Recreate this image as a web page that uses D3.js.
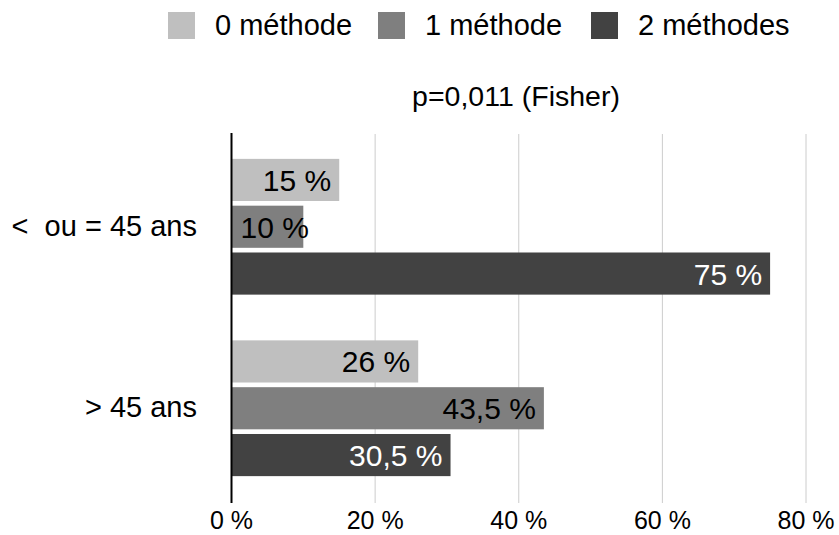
<!DOCTYPE html>
<html>
<head>
<meta charset="utf-8">
<script src="https://cdn.jsdelivr.net/npm/d3@7"></script>
<style>
  html, body { margin: 0; padding: 0; background: #fff; }
  svg { display: block; font-family: "Liberation Sans", Arial, sans-serif; }
</style>
</head>
<body>
<svg id="chart" width="839" height="535"></svg>
<script>
const categories = ["<  ou = 45 ans", "> 45 ans"];
const seriesNames = ["0 méthode", "1 méthode", "2 méthodes"];
const values0 = [15, 26];
const values1 = [10, 43.5];
const values2 = [75, 30.5];
const valueLabels0 = ["15 %", "26 %"];
const valueLabels1 = ["10 %", "43,5 %"];
const valueLabels2 = ["75 %", "30,5 %"];
const tickValues = [0, 20, 40, 60, 80];
const tickLabels = ["0 %", "20 %", "40 %", "60 %", "80 %"];
const subtitle = "p=0,011 (Fisher)";
const colors = ["#bfbfbf", "#7f7f7f", "#424242"];
const labelColors = ["#000", "#000", "#fff"];

const seriesValues = [values0, values1, values2];
const seriesLabels = [valueLabels0, valueLabels1, valueLabels2];

const svg = d3.select("#chart");

const x = d3.scaleLinear().domain([0, 80]).range([231.5, 806]);
const y0 = d3.scaleBand().domain(categories).range([136, 499]).paddingInner(0.252).paddingOuter(0.126);
const y1 = d3.scaleBand().domain(seriesNames).range([0, y0.bandwidth()]).paddingInner(0.1);

// gridlines
svg.append("g").selectAll("line")
  .data(tickValues.filter(d => d > 0))
  .join("line")
  .attr("x1", d => x(d)).attr("x2", d => x(d))
  .attr("y1", 134).attr("y2", 503)
  .attr("stroke", "#cccccc").attr("stroke-width", 1);

// tick labels
svg.append("g").selectAll("text")
  .data(tickValues)
  .join("text")
  .attr("x", d => x(d))
  .attr("y", 529)
  .attr("text-anchor", "middle")
  .attr("font-size", 25)
  .attr("fill", "#000")
  .text((d, i) => tickLabels[i]);

// bars
const rows = [];
categories.forEach((c, ci) => {
  seriesNames.forEach((s, si) => {
    rows.push({cat: c, ser: s, si, v: seriesValues[si][ci], label: seriesLabels[si][ci]});
  });
});

const barG = svg.append("g");
barG.selectAll("rect")
  .data(rows)
  .join("rect")
  .attr("x", x(0))
  .attr("y", d => y0(d.cat) + y1(d.ser))
  .attr("width", d => x(d.v) - x(0))
  .attr("height", y1.bandwidth())
  .attr("fill", d => colors[d.si]);

barG.selectAll("text")
  .data(rows)
  .join("text")
  .attr("y", d => y0(d.cat) + y1(d.ser) + y1.bandwidth() / 2 + 11)
  .attr("font-size", 30)
  .attr("fill", d => labelColors[d.si])
  .attr("text-anchor", "start")
  .text(d => d.label)
  .each(function(d) {
    const w = this.getComputedTextLength();
    const xe = Math.max(x(d.v) - 8, x(0) + 9 + w);
    d3.select(this).attr("x", xe - w);
  });

// axis line
svg.append("line")
  .attr("x1", x(0)).attr("x2", x(0))
  .attr("y1", 133).attr("y2", 503)
  .attr("stroke", "#000").attr("stroke-width", 2);

// category labels
svg.append("g").selectAll("text")
  .data(categories)
  .join("text")
  .attr("x", 197)
  .attr("y", d => y0(d) + y0.bandwidth() / 2 + 9)
  .attr("text-anchor", "end")
  .attr("font-size", 29)
  .attr("fill", "#000")
  .style("white-space", "pre")
  .text(d => d);

// subtitle
svg.append("text")
  .attr("x", 516).attr("y", 106)
  .attr("text-anchor", "middle")
  .attr("font-size", 28.5)
  .attr("fill", "#000")
  .text(subtitle);

// legend
const legendX = [168, 378, 591];
const lg = svg.append("g").selectAll("g")
  .data(seriesNames)
  .join("g")
  .attr("transform", (d, i) => `translate(${legendX[i]},12)`);
lg.append("rect").attr("width", 27).attr("height", 27).attr("fill", (d, i) => colors[i]);
lg.append("text").attr("x", 47).attr("y", 23).attr("font-size", 29).attr("fill", "#000").text(d => d);
</script>
</body>
</html>
